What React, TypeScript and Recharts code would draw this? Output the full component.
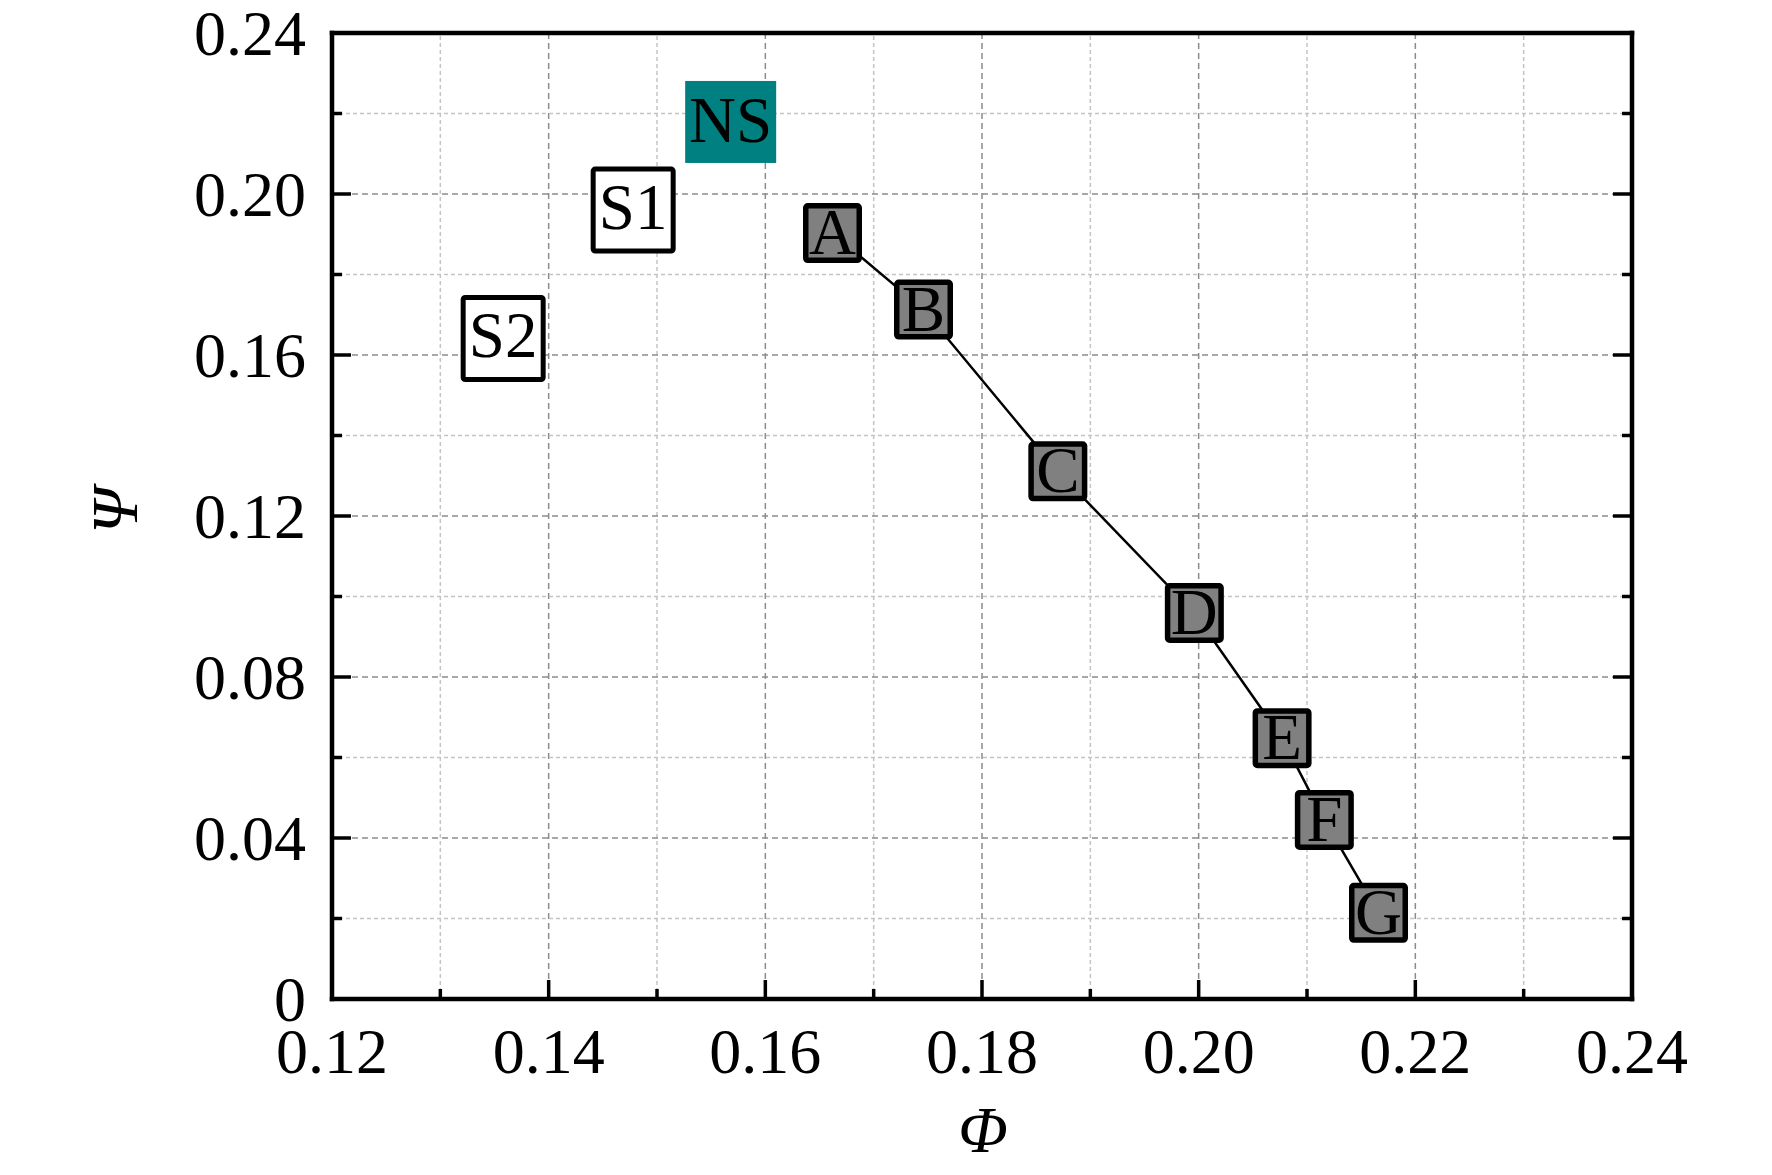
import React from "react";
import {
  ScatterChart,
  Scatter,
  XAxis,
  YAxis,
  ReferenceLine,
} from "recharts";

// values
const mainLabels = ["A", "B", "C", "D", "E", "F", "G"];
const mainPhi = [0.1662, 0.1746, 0.187, 0.1996, 0.2077, 0.2116, 0.2166];
const mainPsi = [0.1903, 0.1713, 0.1311, 0.0959, 0.0648, 0.0445, 0.0214];

const otherLabels = ["NS", "S1", "S2"];
const otherPhi = [0.1568, 0.1478, 0.1358];
const otherPsi = [0.2179, 0.196, 0.1641];

const xTicks = [0.12, 0.13, 0.14, 0.15, 0.16, 0.17, 0.18, 0.19, 0.2, 0.21, 0.22, 0.23, 0.24];
const yTicks = [0, 0.02, 0.04, 0.06, 0.08, 0.1, 0.12, 0.14, 0.16, 0.18, 0.2, 0.22, 0.24];

const mainPoints = mainLabels.map((l, i) => ({ phi: mainPhi[i], psi: mainPsi[i], label: l }));
const otherPoints = otherLabels.map((l, i) => ({ phi: otherPhi[i], psi: otherPsi[i], label: l }));

const FONT = "'Liberation Serif', 'Times New Roman', serif";
const isMajorX = (v: number) => Math.round(v * 100) % 2 === 0;
const isMajorY = (v: number) => Math.round(v * 100) % 4 === 0;
const fmtX = (v: number) => v.toFixed(2);
const fmtY = (v: number) => (v === 0 ? "0" : v.toFixed(2));

const BottomTick = (props: any) => {
  const { x, y, payload } = props;
  const major = isMajorX(payload.value);
  return (
    <g>
      <line x1={x} x2={x} y1={y} y2={y - (major ? 19 : 10)} stroke="#000" strokeWidth={3.5} />
      {major && (
        <text x={x} y={y + 74} textAnchor="middle" fontFamily={FONT} fontSize={64} fill="#000">
          {fmtX(payload.value)}
        </text>
      )}
    </g>
  );
};

const TopTick = (props: any) => {
  const { x, y, payload } = props;
  const major = isMajorX(payload.value);
  return <line x1={x} x2={x} y1={y} y2={y + (major ? 19 : 10)} stroke="#000" strokeWidth={3.5} />;
};

const LeftTick = (props: any) => {
  const { x, y, payload } = props;
  const major = isMajorY(payload.value);
  return (
    <g>
      <line x1={x} x2={x + (major ? 19 : 10)} y1={y} y2={y} stroke="#000" strokeWidth={3.5} />
      {major && (
        <text x={x - 26} y={y + 22} textAnchor="end" fontFamily={FONT} fontSize={64} fill="#000">
          {fmtY(payload.value)}
        </text>
      )}
    </g>
  );
};

const RightTick = (props: any) => {
  const { x, y, payload } = props;
  const major = isMajorY(payload.value);
  return <line x1={x} x2={x - (major ? 19 : 10)} y1={y} y2={y} stroke="#000" strokeWidth={3.5} />;
};

const MainBox = (props: any) => {
  const { cx, cy, payload } = props;
  const w = 59;
  const h = 60;
  const sw = 5.5;
  return (
    <g>
      <rect x={cx - w / 2 + sw / 2} y={cy - h / 2 + sw / 2} width={w - sw} height={h - sw} rx={2}
        fill="#808080" stroke="#000" strokeWidth={sw} />
      <text x={cx} y={cy + 21} textAnchor="middle" fontFamily={FONT} fontSize={65} fill="#000">
        {payload.label}
      </text>
    </g>
  );
};

const OtherBox = (props: any) => {
  const { cx, cy, payload } = props;
  if (payload.label === "NS") {
    const w = 91;
    const h = 82;
    return (
      <g>
        <rect x={cx - w / 2} y={cy - h / 2} width={w} height={h} fill="#008080" />
        <text x={cx} y={cy + 20} textAnchor="middle" fontFamily={FONT} fontSize={65} fill="#000">
          {payload.label}
        </text>
      </g>
    );
  }
  const w = 85;
  const h = 87;
  const sw = 5;
  return (
    <g>
      <rect x={cx - w / 2 + sw / 2} y={cy - h / 2 + sw / 2} width={w - sw} height={h - sw} rx={2}
        fill="#fff" stroke="#000" strokeWidth={sw} />
      <text x={cx} y={cy + 19} textAnchor="middle" fontFamily={FONT} fontSize={65} fill="#000">
        {payload.label}
      </text>
    </g>
  );
};

const XTitle = (props: any) => {
  const { viewBox } = props;
  return (
    <text x={viewBox.x + viewBox.width / 2 + 1} y={viewBox.y + 153} textAnchor="middle"
      fontFamily={FONT} fontStyle="italic" fontSize={65} fill="#000">
      Φ
    </text>
  );
};

const YTitle = (props: any) => {
  const { viewBox } = props;
  const cy = viewBox.y + viewBox.height / 2 - 5;
  return (
    <text transform={`translate(137, ${cy}) rotate(-90)`} textAnchor="middle"
      fontFamily={FONT} fontStyle="italic" fontSize={65} fill="#000">
      Ψ
    </text>
  );
};

const axisStyle = { stroke: "#000", strokeWidth: 4.5, strokeLinecap: "square" as const };

const App = () => {
  return (
    <div style={{ margin: -8, background: "#fff", width: 1772, height: 1175 }}>
      <ScatterChart width={1772} height={1175} margin={{ top: 32, right: 139, bottom: 0, left: 0 }}>
        <XAxis dataKey="phi" type="number" domain={[0.12, 0.24]} ticks={xTicks} interval={0}
          height={176} tickSize={0} tickMargin={0} tickLine={false}
          axisLine={axisStyle} tick={<BottomTick />}
          label={<XTitle />} allowDataOverflow />
        <XAxis xAxisId="top" orientation="top" type="number" domain={[0.12, 0.24]} ticks={xTicks}
          interval={0} height={1} tickSize={0} tickMargin={0} tickLine={false}
          axisLine={axisStyle} tick={<TopTick />} allowDataOverflow />
        <YAxis dataKey="psi" type="number" domain={[0, 0.24]} ticks={yTicks} interval={0}
          width={332} tickSize={0} tickMargin={0} tickLine={false}
          axisLine={axisStyle} tick={<LeftTick />}
          label={<YTitle />} allowDataOverflow />
        <YAxis yAxisId="right" orientation="right" type="number" domain={[0, 0.24]} ticks={yTicks}
          interval={0} width={1} tickSize={0} tickMargin={0} tickLine={false}
          axisLine={axisStyle} tick={<RightTick />} allowDataOverflow />

        {xTicks.slice(1, -1).map((v) => (
          <ReferenceLine key={"gx" + v} x={v}
            stroke={isMajorX(v) ? "#8c8c8c" : "#c4c4c4"} strokeWidth={1.5}
            strokeDasharray={isMajorX(v) ? "6 4" : "4 3"} />
        ))}
        {yTicks.slice(1, -1).map((v) => (
          <ReferenceLine key={"gy" + v} y={v}
            stroke={isMajorY(v) ? "#8c8c8c" : "#c4c4c4"} strokeWidth={1.5}
            strokeDasharray={isMajorY(v) ? "6 4" : "4 3"} />
        ))}

        <Scatter data={mainPoints} line={{ stroke: "#000", strokeWidth: 2.5 }} lineType="joint"
          shape={<MainBox />} isAnimationActive={false} />
        <Scatter data={otherPoints} shape={<OtherBox />} isAnimationActive={false} />
      </ScatterChart>
    </div>
  );
};

export default App;
